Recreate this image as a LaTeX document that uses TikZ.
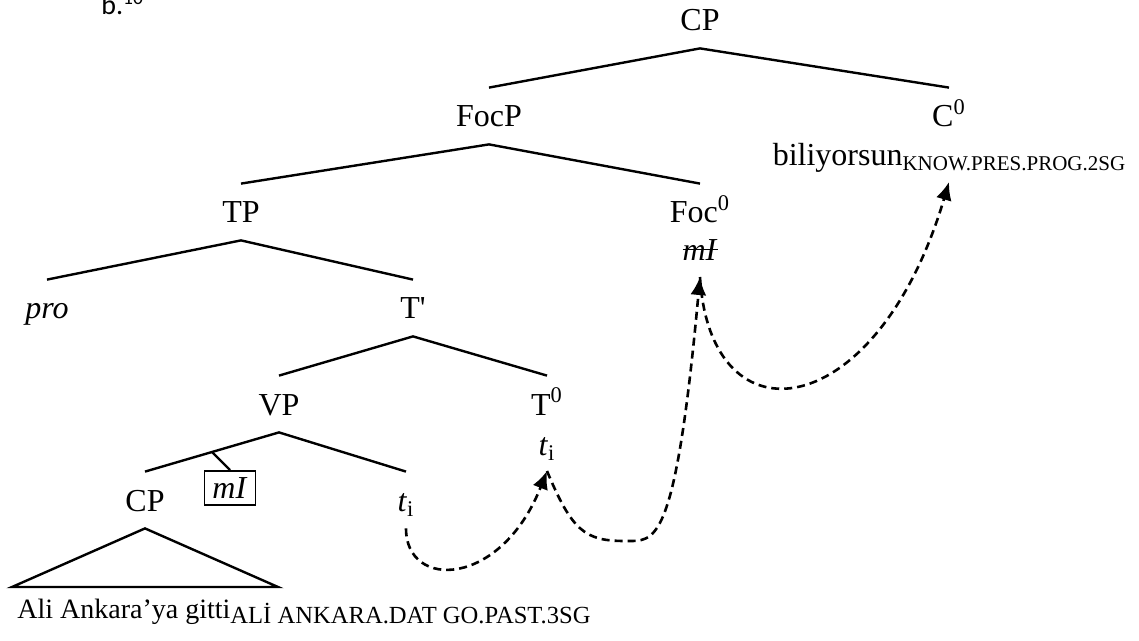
\documentclass[tikz,border=0pt]{standalone}
\usepackage{fontspec}
\setmainfont{Liberation Serif}
\newfontfamily\exfont{Carlito}
\usetikzlibrary{arrows.meta}

% small caps gloss, lowered like a subscript
\newcommand{\gloss}[2][10.5]{\raisebox{-2.5pt}{\fontsize{#1}{#1}\selectfont #2}}
% struck-through copy
\newsavebox{\strikebox}
\newcommand{\struck}[1]{\sbox{\strikebox}{#1}\rlap{\usebox{\strikebox}}\rule[0.33em]{\wd\strikebox}{0.06em}}

\tikzset{
  cat/.style={font=\fontsize{16}{19}\selectfont, text height=11pt, text depth=0pt,
    inner xsep=2pt, inner ysep=8.5pt, anchor=base},
  lex/.style={font=\fontsize{16}{19}\selectfont, text height=11pt, text depth=2pt,
    inner sep=3pt, outer sep=3pt, anchor=base},
  branch/.style={line width=1.2pt},
  boxed/.style={draw, line width=0.9pt, font=\fontsize{16}{19}\selectfont,
    inner xsep=4pt, inner ysep=2pt, minimum height=17pt, anchor=north},
  move/.style={line width=1.3pt, dash pattern=on 4pt off 2.5pt,
    -{Latex[length=9pt,width=8pt]}},
}

\begin{document}
\begin{tikzpicture}[x=0.5pt,y=-0.5pt]
\useasboundingbox (0,0) rectangle (1139,641);

\node[font=\exfont\fontsize{14}{17}\selectfont, anchor=base west, inner sep=0pt] (exb) at (101,15) {b.\textsuperscript{10}};

% categories
\node[cat] (cptop) at (700,31) {CP};
\node[cat] (focp) at (489,127) {FocP};
\node[cat] (c0) at (949,127) {C\textsuperscript{0}};
\node[cat] (tp) at (241,223) {TP};
\node[cat] (foc0) at (700,223) {Foc\textsuperscript{0}};
\node[cat] (pro) at (47,319) {\textit{pro}};
\node[cat] (tbar) at (413,319) {T\textquotesingle};
\node[cat] (vp) at (279,415) {VP};
\node[cat] (t0) at (547,415) {T\textsuperscript{0}};
\node[cat] (cplow) at (145,511) {CP};
\node[cat] (tilow) at (406,511) {\textit{t}\textsubscript{i}};

% lexical material
\node[lex] (bili) at (949,166) {biliyorsun\gloss{KNOW.PRES.PROG.2SG}};
\node[lex] (focmi) at (700,261) {\struck{\textit{mI}}};
\node[lex] (tihi) at (547,455) {\textit{t}\textsubscript{i}};
\node[boxed] (mibox) at (230,470) {\textit{mI}};
\node[font=\fontsize{14}{17}\selectfont, anchor=base west, inner sep=0pt] (sent) at (17,618)
  {Ali Ankara’ya gitti\gloss[12.3]{ALİ ANKARA.DAT GO.PAST.3SG}};

% branches
\draw[branch] (focp.north) -- (cptop.south) -- (c0.north);
\draw[branch] (tp.north) -- (focp.south) -- (foc0.north);
\draw[branch] (pro.north) -- (tp.south) -- (tbar.north);
\draw[branch] (vp.north) -- (tbar.south) -- (t0.north);
\draw[branch] (cplow.north) -- coordinate (adj) (vp.south) -- (tilow.north);
\draw[branch] (adj) -- (mibox.north);

% triangle
\coordinate (trl) at (12,587);
\coordinate (trr) at (278,587);
\draw[branch] (cplow.south) -- (trr) -- (trl) -- cycle;

% movement
\coordinate (dip) at (625,541);
\draw[move] (tilow.south) .. controls +(0,62) and +(-46,117) .. (tihi.south);
\draw[move] (tihi.south) .. controls +(25,60) and +(-40,0) .. (dip)
  .. controls +(30,0) and +(-25,273) .. (focmi.south);
\draw[move] (focmi.south) .. controls +(10,170) and +(-72,243) .. (bili.south);
\end{tikzpicture}
\end{document}
